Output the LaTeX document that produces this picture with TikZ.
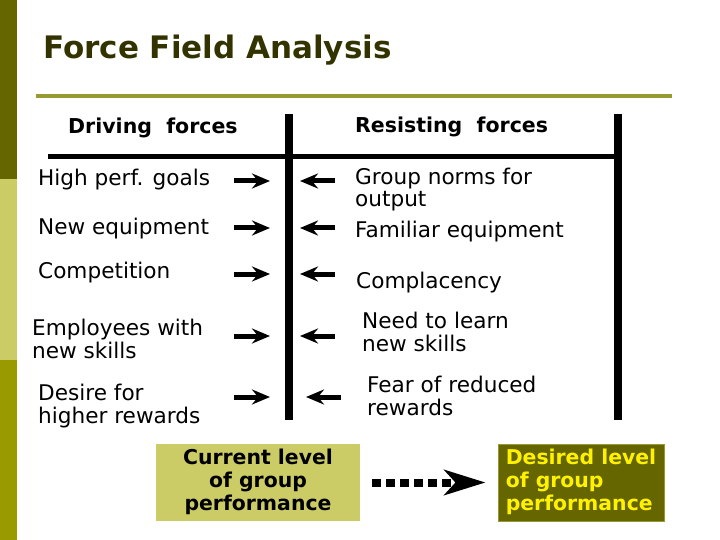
\documentclass[tikz,border=0pt]{standalone}
\usepackage{fontspec}
\setmainfont{DejaVu Sans}
\usetikzlibrary{arrows.meta}
\definecolor{olivedark}{HTML}{666600}
\definecolor{olivelight}{HTML}{CCCC66}
\definecolor{olivemid}{HTML}{999900}
\definecolor{oliverule}{HTML}{999933}
\definecolor{titlecol}{HTML}{333300}
\tikzset{
  body/.style={anchor=base west, inner sep=0pt, font=\fontsize{21.6}{22}\selectfont},
  head/.style={anchor=base west, inner sep=0pt, font=\bfseries\fontsize{20.5}{22}\selectfont},
  force/.style={line width=5pt, -{Stealth[length=18pt,width=15pt,inset=6pt]}},
  bar/.style={line width=8.5pt},
  levelbox/.style={minimum width=204pt, minimum height=77pt, inner sep=0pt,
    font=\bfseries\fontsize{20.4}{23}\selectfont},
}
\newcommand{\lines}[2][l]{\begin{tabular}[t]{@{}#1@{}}#2\end{tabular}}
\begin{document}
\begin{tikzpicture}[x=1pt,y=-1pt]
\useasboundingbox (0,0) rectangle (720,540);
\fill[white] (0,0) rectangle (720,540);
% side bar
\fill[olivedark] (0,0) rectangle (17,179);
\fill[olivelight] (0,179) rectangle (17,360);
\fill[olivemid] (0,360) rectangle (17,540);
% title
\node[anchor=base west, inner sep=0pt, text=titlecol, font=\bfseries\fontsize{31}{36}\selectfont] (title) at (43,59) {Force Field Analysis};
\draw[oliverule, line width=3.5pt] (36,96) -- (672,96);
% frame
\draw[bar] (289,114) -- (289,420);
\draw[bar] (618,114) -- (618,420);
\draw[line width=5pt] (48,157) -- (614,157);
% headers
\node[head] (drv) at (68,134) {Driving\ \ forces};
\node[head] (res) at (355,133) {Resisting\ \ forces};
% driving forces
\node[body] (d1) at (38,186) {High perf. goals};
\node[body] (d2) at (38,235) {New equipment};
\node[body] (d3) at (38,278) {Competition};
\node[body] (d4) at (32,335) {\lines{Employees with\\new skills}};
\node[body] (d5) at (38,400) {\lines{Desire for\\higher rewards}};
% resisting forces
\node[body] (r1) at (355,185) {\lines{Group norms for\\output}};
\node[body] (r2) at (355,237) {Familiar equipment};
\node[body] (r3) at (356,288) {Complacency};
\node[body] (r4) at (362,328) {\lines{Need to learn\\new skills}};
\node[body] (r5) at (367,392) {\lines{Fear of reduced\\rewards}};
% arrows
\foreach \y in {181,228,274,336,397}
  \draw[force] (234,\y) -- (270,\y);
\foreach \y in {181,228,274,336}
  \draw[force] (335,\y) -- (300,\y);
\draw[force] (341,397) -- (306,397);
% level boxes
\node[levelbox, fill=olivelight] (cur) at (258,482.5) {\lines[c]{Current level\\of group\\performance}};
\node[levelbox, fill=olivedark, draw=oliverule, line width=1pt, minimum width=166pt, text=yellow] (des) at (581,482.5) {\lines{Desired level\\of group\\performance}};
\draw[line width=8pt, dash pattern=on 9pt off 5pt, -{Stealth[length=41pt,width=25pt,inset=11pt]}]
  ([xshift=12pt]cur.east) -- ([xshift=-12pt]des.west);
\end{tikzpicture}
\end{document}
